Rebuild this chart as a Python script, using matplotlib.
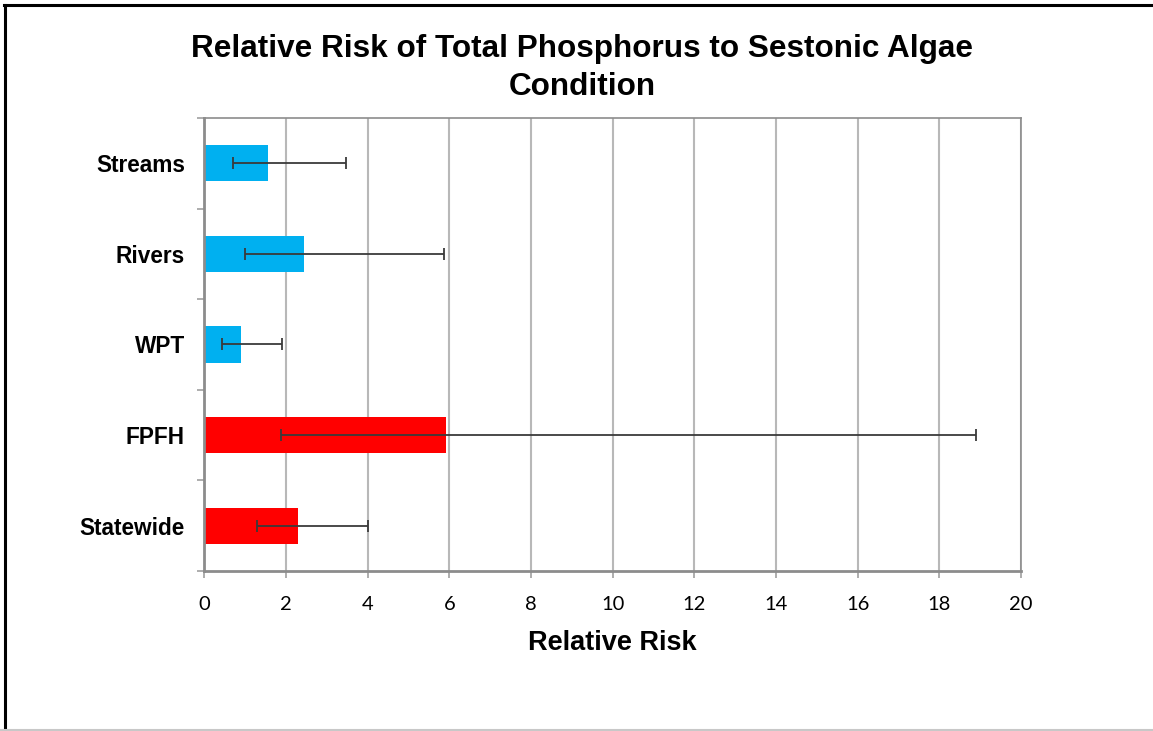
import matplotlib.pyplot as plt
from matplotlib.lines import Line2D
import numpy as np

# relative risk with lower / upper confidence limits
sites = ['Streams', 'Rivers', 'WPT', 'FPFH', 'Statewide']
risk = [1.55, 2.43, 0.89, 5.93, 2.30]
lower = [0.71, 1.00, 0.43, 1.87, 1.28]
upper = [3.47, 5.87, 1.91, 18.91, 4.02]
colors = ['#00B0F0', '#00B0F0', '#00B0F0', '#FF0000', '#FF0000']
xticks = [0, 2, 4, 6, 8, 10, 12, 14, 16, 18, 20]

fig = plt.figure(figsize=(11.53, 7.31), dpi=100)
ax = fig.add_axes([0.1772, 0.2189, 0.7083, 0.6197])

y = np.arange(len(sites))
err = [np.array(risk) - np.array(lower), np.array(upper) - np.array(risk)]
ax.barh(y, risk, height=0.4, color=colors, zorder=2)
ax.errorbar(risk, y, xerr=err, fmt='none', ecolor='#3a3a3a', elinewidth=1.3,
            capsize=4, capthick=1.3, zorder=3)

ax.set_xlim(0, 20)
ax.set_ylim(len(sites) - 0.5, -0.5)
ax.set_xticks(xticks)
ax.set_xticklabels([str(t) for t in xticks], family='Lato', fontsize=14.5)
ax.set_yticks(y)
ax.set_yticklabels(sites, family='Liberation Sans', fontweight='bold', fontsize=16.3)
ax.set_yticks(np.arange(-0.5, len(sites)), minor=True)
ax.tick_params(axis='y', which='major', length=0, pad=14)
ax.tick_params(axis='y', which='minor', length=5, color='#a0a0a0', width=1.2)
ax.tick_params(axis='x', length=5, color='#a0a0a0', width=1.2, pad=13)

ax.xaxis.grid(True, color='#b8b8b8', linewidth=1.5, zorder=0)
ax.set_axisbelow(True)
for s in ['top', 'right']:
    ax.spines[s].set_color('#8c8c8c')
    ax.spines[s].set_linewidth(1.2)
for s in ['left', 'bottom']:
    ax.spines[s].set_color('#8c8c8c')
    ax.spines[s].set_linewidth(2)

ax.set_xlabel('Relative Risk', family='Liberation Sans', fontweight='bold',
              fontsize=19.5, labelpad=12.5)

fig.text(0.505, 0.953, 'Relative Risk of Total Phosphorus to Sestonic Algae\nCondition',
         ha='center', va='top', family='Liberation Sans', fontweight='bold',
         fontsize=22.7, linespacing=1.32)

# outer frame
fig.add_artist(Line2D([0.0045, 0.0045], [0.0, 0.993], color='black', linewidth=2.2))
fig.add_artist(Line2D([0.0035, 1.0], [0.993, 0.993], color='black', linewidth=2.2))
fig.add_artist(Line2D([0.0, 1.0], [0.0015, 0.0015], color='#c8c8c8', linewidth=1.5))

fig.savefig('out.png', dpi=100)
